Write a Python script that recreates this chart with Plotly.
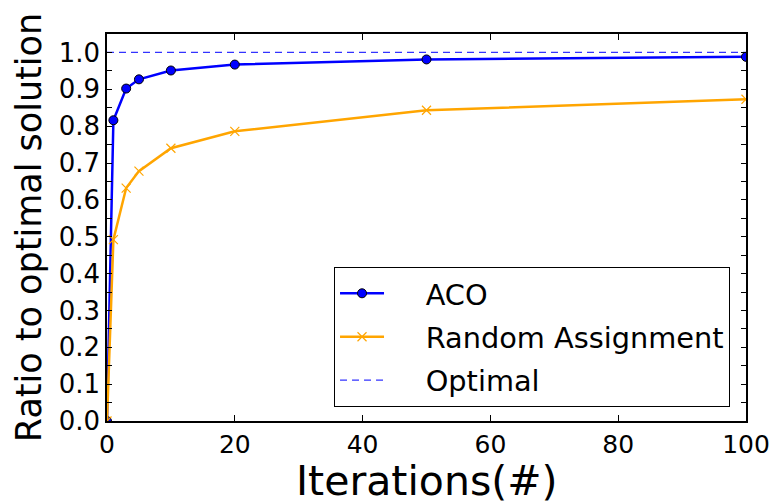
import plotly.graph_objects as go

# Iteration counts and the ratio each method reaches relative to the optimum
iterations = [0, 1, 3, 5, 10, 20, 50, 100]
aco_ratio = [0.0, 0.816, 0.902, 0.927, 0.951, 0.967, 0.981, 0.988]
random_ratio = [0.0, 0.492, 0.632, 0.678, 0.740, 0.786, 0.843, 0.873]
optimal_x = [0, 100]
optimal_ratio = [1.0, 1.0]

y_ticks = [round(0.1 * i, 1) for i in range(11)]
y_labels = [f"{v:.1f}" for v in y_ticks]
x_ticks = [0, 20, 40, 60, 80, 100]

PAD = "\u00a0" * 4  # gap between legend sample and label

fig = go.Figure()

fig.add_trace(go.Scatter(
    x=iterations, y=aco_ratio, name=PAD + "ACO", mode="lines+markers",
    line=dict(color="#0000FF", width=2.5),
    marker=dict(symbol="circle", size=9, color="#0000FF",
                line=dict(color="black", width=1)),
    legendgroup="a",
))
fig.add_trace(go.Scatter(
    x=iterations, y=random_ratio, name=PAD + "Random Assignment",
    mode="lines+markers",
    line=dict(color="#FFA500", width=2.5),
    marker=dict(symbol="x-thin", size=9, color="#FFA500",
                line=dict(color="#FFA500", width=1.2)),
    legendgroup="b",
))
fig.add_trace(go.Scatter(
    x=optimal_x, y=optimal_ratio, name=PAD + "Optimal", mode="lines",
    line=dict(color="#3333FF", width=1.2, dash="7px,5px"),
    legendgroup="c",
))

axis_common = dict(
    showline=True, linecolor="black", linewidth=1.5, mirror="ticks",
    ticks="inside", tickcolor="black", tickwidth=1,
    showgrid=False, zeroline=False,
)

fig.update_xaxes(
    range=[0, 100], tickvals=x_ticks, ticklen=6,
    tickfont=dict(family="DejaVu Sans", size=25, color="black"),
    **axis_common,
)
fig.update_yaxes(
    range=[0, 1.05], tickvals=y_ticks, ticktext=y_labels, ticklen=5,
    minor=dict(dtick=0.05, tick0=0, ticks="inside", ticklen=5,
               tickcolor="black", tickwidth=1),
    tickfont=dict(family="DejaVu Sans", size=26, color="black"),
    title=dict(text="Ratio to optimal solution", standoff=6,
               font=dict(family="DejaVu Sans", size=35, color="black")),
    **axis_common,
)

# x-axis title placed below the tick labels
fig.add_annotation(
    text="Iterations(#)", xref="paper", yref="paper", x=0.5, y=-0.154,
    xanchor="center", yanchor="middle", showarrow=False,
    font=dict(family="DejaVu Sans", size=41, color="black"),
)

fig.update_layout(
    width=775, height=504,
    margin=dict(l=107, r=29, t=34, b=83, autoexpand=False),
    plot_bgcolor="white", paper_bgcolor="white",
    font=dict(family="DejaVu Sans", color="black"),
    legend=dict(
        x=0.975, y=0.036, xanchor="right", yanchor="bottom",
        bgcolor="white", bordercolor="black", borderwidth=1,
        font=dict(family="DejaVu Sans", size=28.8, color="black"),
        tracegroupgap=3, itemwidth=44,
    ),
)

fig.write_html("out.html")
